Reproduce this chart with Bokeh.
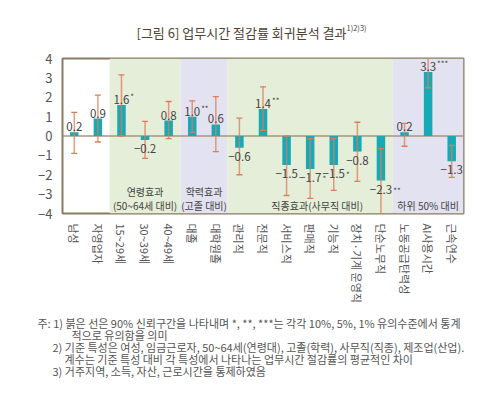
from bokeh.plotting import figure
from bokeh.models import ColumnDataSource, FactorRange, Range1d, FixedTicker, Span, BoxAnnotation, Label
from bokeh.embed import file_html
from bokeh.resources import INLINE
from bokeh.core.properties import value

# ---------------- data ----------------
categories = ["남성", "자영업자", "15~29세", "30~39세", "40~49세", "대졸", "대학원졸",
              "관리직", "전문직", "서비스직", "판매직", "기능직", "장치·기계 운영직",
              "단순노무직", "노동공급탄력성", "AI사용시간", "근속연수"]
coef = [0.2, 0.9, 1.6, -0.2, 0.8, 1.0, 0.6, -0.6, 1.4, -1.5, -1.7, -1.5, -0.8, -2.3, 0.2, 3.3, -1.3]
stars = ["", "", "*", "", "", "**", "", "", "**", "", "*", "*", "", "**", "", "***", "**"]
ci_low = [-0.9, -0.31, 0.0, -1.15, -0.14, 0.2, -0.81, -2.0, 0.29, -3.07, -3.22, -2.81, -2.34, -4.3, -0.53, 2.49, -2.14]
ci_high = [1.22, 2.11, 3.15, 0.76, 1.78, 1.81, 2.03, 0.92, 2.54, 0.0, -0.14, -0.13, 0.71, -0.65, 0.65, 4.3, -0.48]
y_ticks = [-4, -3, -2, -1, 0, 1, 2, 3, 4]

# groups: (line1, line2, first category, last category, shade)
groups = [
    ("연령효과", "(50~64세 대비)", "15~29세", "40~49세", "green"),
    ("학력효과", "(고졸 대비)", "대졸", "대학원졸", "lavender"),
    ("직종효과(사무직 대비)", "", "관리직", "단순노무직", "green"),
    ("하위 50% 대비", "", "노동공급탄력성", "근속연수", "lavender"),
]

title_text = "[그림 6] 업무시간 절감률 회귀분석 결과"
title_sup = "1)2)3)"
note_lines = [
    "주: 1) 붉은 선은 90% 신뢰구간을 나타내며 *, **, ***는 각각 10%, 5%, 1% 유의수준에서 통계",
    "적으로 유의함을 의미",
    "2) 기준 특성은 여성, 임금근로자, 50~64세(연령대), 고졸(학력), 사무직(직종), 제조업(산업).",
    "계수는 기준 특성 대비 각 특성에서 나타나는 업무시간 절감률의 평균적인 차이",
    "3) 거주지역, 소득, 자산, 근로시간을 통제하였음",
]

# ---------------- style / layout ----------------
FONT = "Noto Sans CJK KR"
TEAL = "#17a9b5"
ERR = "#e07b5a"
SHADES = {"green": "#e4eed8", "lavender": "#e2e2f0"}
TXT = "#444444"
W = 484
H_TITLE, H_MAIN, H_NOTES = 44, 261, 80
BL, BR, BT, BB = 62, 21, 14, 89
NOTE_X = [37, 71, 52, 64, 52]          # left edge of each note line (px)
NOTE_Y = [17, 29, 41, 53, 65]          # middle of each note line (px from top of note panel)

def minus(s):
    return s.replace("-", "\u2212")

def pixel_panel(h):
    f = figure(width=W, height=h, x_range=Range1d(0, W), y_range=Range1d(h, 0),
               output_backend="svg", toolbar_location=None,
               x_axis_location=None, y_axis_location=None,
               min_border_left=0, min_border_right=0, min_border_top=0, min_border_bottom=0)
    f.grid.visible = False
    f.outline_line_color = None
    f.background_fill_color = "white"
    f.border_fill_color = "white"
    return f

# ---------------- title panel ----------------
t = pixel_panel(H_TITLE)
t.text(x=[241], y=[32], text=[title_text], text_align="center", text_baseline="middle",
       text_font=value(FONT), text_font_size="13px", text_color="#4f4234")
t.text(x=[346], y=[27], text=[title_sup], text_align="left", text_baseline="middle",
       text_font=value(FONT), text_font_size="7.5px", text_color="#4f4234")

# ---------------- chart ----------------
p = figure(x_range=FactorRange(*categories), y_range=Range1d(-4, 4),
           width=W, height=H_MAIN, output_backend="svg", toolbar_location=None,
           min_border_left=BL, min_border_right=BR, min_border_top=BT, min_border_bottom=BB)
p.background_fill_color = "white"
p.border_fill_color = "white"
p.xgrid.grid_line_color = None
p.ygrid.grid_line_color = None
p.outline_line_color = "#8b7a62"
p.outline_line_width = 2
p.outline_line_alpha = 1

idx = {c: i for i, c in enumerate(categories)}
for l1, l2, a, b, shade in groups:
    p.add_layout(BoxAnnotation(left=idx[a], right=idx[b] + 1, fill_color=SHADES[shade],
                               fill_alpha=1, line_color=None, level="underlay"))
    mid = (idx[a] + idx[b] + 1) / 2.0
    if l2:
        p.add_layout(Label(x=mid, y=-2.85, text=l1, text_align="center", text_baseline="middle",
                           text_font=FONT, text_font_size="10px", text_color=TXT))
        p.add_layout(Label(x=mid, y=-3.6, text=l2, text_align="center", text_baseline="middle",
                           text_font=FONT, text_font_size="10px", text_color=TXT))
    else:
        p.add_layout(Label(x=mid + (0.3 if shade == "green" else 0), y=-3.6, text=l1,
                           text_align="center", text_baseline="middle",
                           text_font=FONT, text_font_size="10px", text_color=TXT))

p.add_layout(Span(location=0, dimension="width", line_color="#a8977c", line_width=1.5, level="underlay"))

src = ColumnDataSource(dict(cat=categories, coef=coef, lo=ci_low, hi=ci_high))
p.vbar(x="cat", top="coef", bottom=0, width=0.36, fill_color=TEAL, line_color=None, source=src)
p.segment(x0="cat", y0="lo", x1="cat", y1="hi", line_color=ERR, line_width=1.5, line_alpha=0.75, source=src)
p.scatter(x="cat", y="lo", marker="dash", size=6, line_color=ERR, line_width=1.3, source=src)
p.scatter(x="cat", y="hi", marker="dash", size=6, line_color=ERR, line_width=1.3, source=src)

def text_width(s, size):
    w = 0
    for ch in s:
        w += size * (0.3 if ch == "." else 0.58)
    return w

pos = dict(cat=[], y=[], t=[], s=[], so=[])
neg = dict(cat=[], y=[], t=[], s=[], so=[])
for c, v, st in zip(categories, coef, stars):
    txt = minus(f"{v:.1f}")
    d = pos if v >= 0 else neg
    d["cat"].append(c); d["y"].append(v); d["t"].append(txt); d["s"].append(st)
    d["so"].append(text_width(txt, 11.5) / 2.0 + 0.5)

ps = ColumnDataSource(pos)
ns = ColumnDataSource(neg)
p.text(x="cat", y="y", text="t", source=ps, text_align="center", text_baseline="bottom",
       y_offset=-1, text_font=value(FONT), text_font_size="11.5px", text_color=TXT)
p.text(x="cat", y="y", text="t", source=ns, text_align="center", text_baseline="top",
       y_offset=4, text_font=value(FONT), text_font_size="11.5px", text_color=TXT)
p.text(x="cat", y="y", text="s", source=ps, x_offset="so", text_align="left", text_baseline="top",
       y_offset=-14, text_font=value(FONT), text_font_size="8px", text_color=TXT)
p.text(x="cat", y="y", text="s", source=ns, x_offset="so", text_align="left", text_baseline="top",
       y_offset=4, text_font=value(FONT), text_font_size="8px", text_color=TXT)

p.yaxis.ticker = FixedTicker(ticks=y_ticks)
p.yaxis.major_label_overrides = {tk: minus(str(tk)) for tk in y_ticks}
p.yaxis.axis_line_color = None
p.yaxis.major_tick_line_color = None
p.yaxis.minor_tick_line_color = None
p.yaxis.major_tick_out = 0
p.yaxis.major_tick_in = 0
p.yaxis.major_label_standoff = 10
p.yaxis.major_label_text_font = FONT
p.yaxis.major_label_text_font_size = "13px"
p.yaxis.major_label_text_color = "#555555"

p.xaxis.axis_line_color = None
p.xaxis.major_tick_line_color = None
p.xaxis.minor_tick_line_color = None
p.xaxis.major_tick_out = 0
p.xaxis.major_tick_in = 0
p.xaxis.major_label_standoff = 10
p.xaxis.major_label_orientation = "vertical"
p.xaxis.major_label_text_font = FONT
p.xaxis.major_label_text_font_size = "11px"
p.xaxis.major_label_text_color = "#555555"

# ---------------- footnote panel ----------------
q = pixel_panel(H_NOTES)
q.text(x=NOTE_X, y=NOTE_Y, text=note_lines, text_align="left", text_baseline="middle",
       text_font=value(FONT), text_font_size="11px", text_color="#555555")

open("out.html", "w").write(file_html([t, p, q], INLINE))
